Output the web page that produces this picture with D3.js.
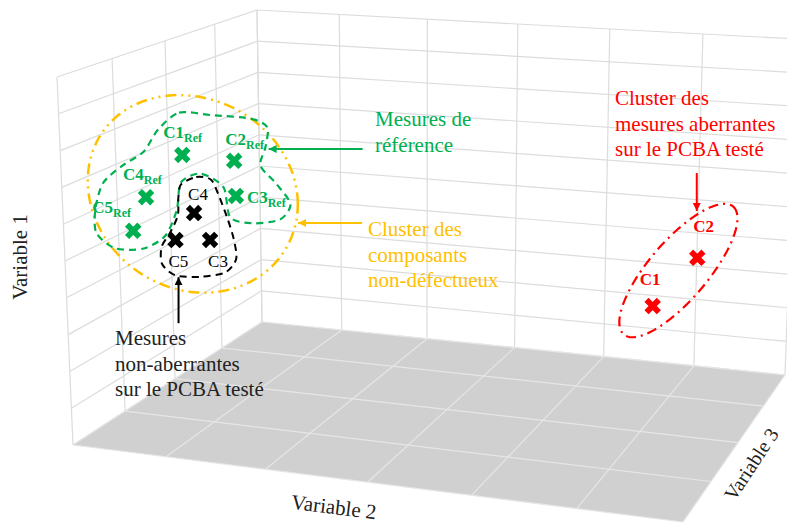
<!DOCTYPE html>
<html lang="fr">
<head>
<meta charset="utf-8">
<title>Clusters de mesures</title>
<script src="https://cdn.jsdelivr.net/npm/d3@7"></script>
<style>
  body { margin: 0; background: #fff; }
  svg text { font-family: "Liberation Serif", Tinos, "Times New Roman", "DejaVu Serif", serif; }
  .grid line { stroke: #dcdcdc; stroke-width: 1.2px; }
  .floorgrid line { stroke: #e6e6e6; stroke-width: 1.2px; }
</style>
</head>
<body>
<svg width="787" height="525"></svg>
<script>
// axis ticks : Variable 2 (0..6), Variable 1 (0..10), Variable 3 (0..4)
var var2Ticks = d3.range(0, 7);
var var1Ticks = d3.range(0, 11);
var var3Ticks = d3.range(0, 5);

// reference measurements (green)
var refNames = ["C1", "C2", "C3", "C4", "C5"];
var refVar2 = [1.25, 1.75, 1.76, 0.88, 0.74];
var refVar1 = [8.16, 8.12, 7.19, 6.94, 6.00];
var refVar3 = [4, 4, 4, 4, 4];

// tested PCBA, non-outliers (black)
var okNames = ["C3", "C4", "C5"];
var okVar2 = [1.50, 1.35, 1.16];
var okVar1 = [5.95, 6.63, 5.86];
var okVar3 = [4, 4, 4];

// tested PCBA, outliers (red)
var badNames = ["C1", "C2"];
var badVar2 = [5.38, 5.79];
var badVar1 = [4.45, 5.83];
var badVar3 = [3, 3];

// hand drawn outlines, in [var2, var1] on the var3 = 4 plane
var greenOutline = [[1.02, 8.79], [1.23, 9.29], [1.54, 9.29], [1.91, 9.28], [2.07, 9.09],
  [2.05, 8.55], [2.00, 8.05], [2.15, 7.60], [2.28, 7.10], [2.18, 6.67], [1.91, 6.50],
  [1.70, 6.61], [1.64, 7.40], [1.42, 7.70], [1.23, 7.42], [1.18, 6.66], [1.06, 5.95],
  [0.84, 5.55], [0.55, 5.48], [0.36, 5.85], [0.36, 6.51], [0.45, 7.22], [0.65, 7.73],
  [0.87, 8.16]];
var blackOutline = [[1.23, 7.37], [1.38, 7.60], [1.52, 7.57], [1.59, 7.19], [1.67, 6.60],
  [1.73, 6.04], [1.75, 5.51], [1.64, 5.12], [1.40, 4.94], [1.15, 4.91], [1.02, 5.18],
  [1.02, 5.64], [1.11, 6.05], [1.19, 6.53], [1.20, 7.01]];
var orangeCenter = [1.32, 7.14], orangeRadii = [1.03, 2.63];
var redCenter = [5.61, 5.44], redAxes = [[0.50, 1.82], [0.22, -0.44]];

var svg = d3.select("svg")
  .attr("font-family", "'Liberation Serif', Tinos, 'Times New Roman', 'DejaVu Serif', serif");

var u = d3.scalePow().exponent(1.05).domain([0, 6]).range([0, 1]);
var v = d3.scaleLinear().domain([0, 10]).range([0, 1]);
var w = d3.scalePow().exponent(1.12).domain([0, 4]).range([0, 1]);

// screen corners of the box, box[var2 end][var1 end][var3 end]
var box = [
  [[[262, 322], [73, 445]], [[257, 10], [57, 77]]],
  [[[785, 375], [683, 522]], [[797, 39], [698, 125]]]
];

function project(a, b, c) {
  var x = u(a), y = v(b), z = w(c), px = 0, py = 0;
  [0, 1].forEach(function(i) {
    [0, 1].forEach(function(j) {
      [0, 1].forEach(function(k) {
        var f = (i ? x : 1 - x) * (j ? y : 1 - y) * (k ? z : 1 - z);
        px += f * box[i][j][k][0];
        py += f * box[i][j][k][1];
      });
    });
  });
  return [px, py];
}

function drawSegments(cls, segs) {
  svg.append("g").attr("class", cls)
    .selectAll("line").data(segs).enter().append("line")
    .attr("x1", function(d) { return d[0][0]; })
    .attr("y1", function(d) { return d[0][1]; })
    .attr("x2", function(d) { return d[1][0]; })
    .attr("y2", function(d) { return d[1][1]; });
}

// walls
var wallSegs = [];
var2Ticks.forEach(function(t) { wallSegs.push([project(t, 0, 0), project(t, 10, 0)]); });
var1Ticks.forEach(function(t) { wallSegs.push([project(0, t, 0), project(6, t, 0)]); });
var3Ticks.forEach(function(t) { wallSegs.push([project(0, 0, t), project(0, 10, t)]); });
var1Ticks.forEach(function(t) { wallSegs.push([project(0, t, 0), project(0, t, 4)]); });
drawSegments("grid", wallSegs);

// floor
svg.append("polygon")
  .attr("points", [project(0, 0, 0), project(6, 0, 0), project(6, 0, 4), project(0, 0, 4)].join(" "))
  .attr("fill", "#d0d0d0");
var floorSegs = [];
var2Ticks.forEach(function(t) { floorSegs.push([project(t, 0, 0), project(t, 0, 4)]); });
var3Ticks.forEach(function(t) { floorSegs.push([project(0, 0, t), project(6, 0, t)]); });
drawSegments("floorgrid", floorSegs);

// arrowheads
var defs = svg.append("defs");
["#00B050", "#FFC000", "#FF0000", "#000000"].forEach(function(c, i) {
  defs.append("marker")
    .attr("id", "arr" + i)
    .attr("viewBox", "0 0 10 10")
    .attr("refX", 10).attr("refY", 5)
    .attr("markerWidth", 4).attr("markerHeight", 4)
    .attr("orient", "auto")
    .append("path").attr("d", "M0,0L10,5L0,10z").attr("fill", c);
});

// outlines
var smoothLine = d3.line().curve(d3.curveCardinalClosed.tension(0.2));
var loopLine = d3.line().curve(d3.curveLinearClosed);

svg.append("path")
  .attr("d", loopLine(d3.range(0, 360, 4).map(function(a) {
    var r = a * Math.PI / 180;
    return project(orangeCenter[0] + orangeRadii[0] * Math.cos(r),
                   orangeCenter[1] + orangeRadii[1] * Math.sin(r), 4);
  })))
  .attr("fill", "none").attr("stroke", "#FFC000").attr("stroke-width", 2.5)
  .attr("stroke-dasharray", "11,5,2,5,2,5");

svg.append("path")
  .attr("d", smoothLine(greenOutline.map(function(p) { return project(p[0], p[1], 4); })))
  .attr("fill", "none").attr("stroke", "#00B050").attr("stroke-width", 2.2)
  .attr("stroke-dasharray", "7,5");

svg.append("path")
  .attr("d", smoothLine(blackOutline.map(function(p) { return project(p[0], p[1], 4); })))
  .attr("fill", "none").attr("stroke", "#000").attr("stroke-width", 2)
  .attr("stroke-dasharray", "7,5");

svg.append("path")
  .attr("d", loopLine(d3.range(0, 360, 4).map(function(a) {
    var r = a * Math.PI / 180, c = Math.cos(r), s = Math.sin(r);
    return project(redCenter[0] + redAxes[0][0] * c + redAxes[1][0] * s,
                   redCenter[1] + redAxes[0][1] * c + redAxes[1][1] * s, 3);
  })))
  .attr("fill", "none").attr("stroke", "#FF0000").attr("stroke-width", 2.2)
  .attr("stroke-dasharray", "10,5,2,5");

// arrows: tip in data space, tail offset in pixels
var arrows = [
  {tip: [2.08, 8.51, 4], off: [94, 0], m: 0, c: "#00B050"},
  {tip: [2.35, 6.62, 4], off: [64, 0], m: 1, c: "#FFC000"},
  {tip: [5.77, 7.06, 3], off: [0, -38], m: 2, c: "#FF0000"},
  {tip: [1.18, 4.87, 4], off: [0, 46], m: 3, c: "#000000"}
];
arrows.forEach(function(a) {
  var p = project(a.tip[0], a.tip[1], a.tip[2]);
  svg.append("line")
    .attr("x1", p[0] + a.off[0]).attr("y1", p[1] + a.off[1])
    .attr("x2", p[0]).attr("y2", p[1])
    .attr("stroke", a.c).attr("stroke-width", 2)
    .attr("marker-end", "url(#arr" + a.m + ")");
});

// points
var cross = d3.symbol().type(d3.symbolCross).size(170);
function drawPoints(names, x2, x1, x3, color, offsets, sub, bold) {
  var pts = names.map(function(n, i) {
    return {name: n, p: project(x2[i], x1[i], x3[i]), off: offsets[n]};
  });
  var g = svg.append("g");
  g.selectAll("path").data(pts).enter().append("path")
    .attr("d", cross)
    .attr("transform", function(d) { return "translate(" + d.p + ") rotate(45)"; })
    .attr("fill", color);
  var t = g.selectAll("text").data(pts).enter().append("text")
    .attr("x", function(d) { return d.p[0] + d.off[0]; })
    .attr("y", function(d) { return d.p[1] + d.off[1]; })
    .attr("fill", color)
    .attr("font-size", 17)
    .attr("font-weight", bold ? "bold" : "normal")
    .text(function(d) { return d.name; });
  if (sub) {
    t.append("tspan").attr("dy", 4).attr("font-size", 12).text(sub);
  }
}

drawPoints(refNames, refVar2, refVar1, refVar3, "#00B050",
  {C1: [-19, -17], C2: [-9, -16], C3: [11, 7], C4: [-23, -17], C5: [-41, -18]}, "Ref", true);
drawPoints(okNames, okVar2, okVar1, okVar3, "#000",
  {C3: [-2, 27], C4: [-6, -13], C5: [-7, 27]}, null, false);
drawPoints(badNames, badVar2, badVar1, badVar3, "#FF0000",
  {C1: [-13, -21], C2: [-4, -26]}, null, true);

// annotation texts
function block(lines, x, y0, color) {
  svg.append("text").attr("fill", color).attr("font-size", 21)
    .selectAll("tspan").data(lines).enter().append("tspan")
    .attr("x", x).attr("y", function(d, i) { return y0 + i * 25.7; })
    .text(function(d) { return d; });
}
block(["Mesures de", "référence"], 375, 126, "#00B050");
block(["Cluster des", "composants", "non-défectueux"], 368, 236, "#FFC000");
block(["Cluster des", "mesures aberrantes", "sur le PCBA testé"], 615, 105, "#FF0000");
block(["Mesures", "non-aberrantes", "sur le PCBA testé"], 115, 345, "#222");

// axis titles
svg.append("text").attr("transform", "translate(27,257) rotate(-90)")
  .attr("text-anchor", "middle").attr("font-size", 21).attr("fill", "#222").text("Variable 1");
svg.append("text").attr("transform", "translate(333,514) rotate(7)")
  .attr("text-anchor", "middle").attr("font-size", 21).attr("fill", "#222").text("Variable 2");
svg.append("text").attr("transform", "translate(757,468) rotate(-56.7)")
  .attr("text-anchor", "middle").attr("font-size", 20).attr("fill", "#222").text("Variable 3");
</script>
</body>
</html>
